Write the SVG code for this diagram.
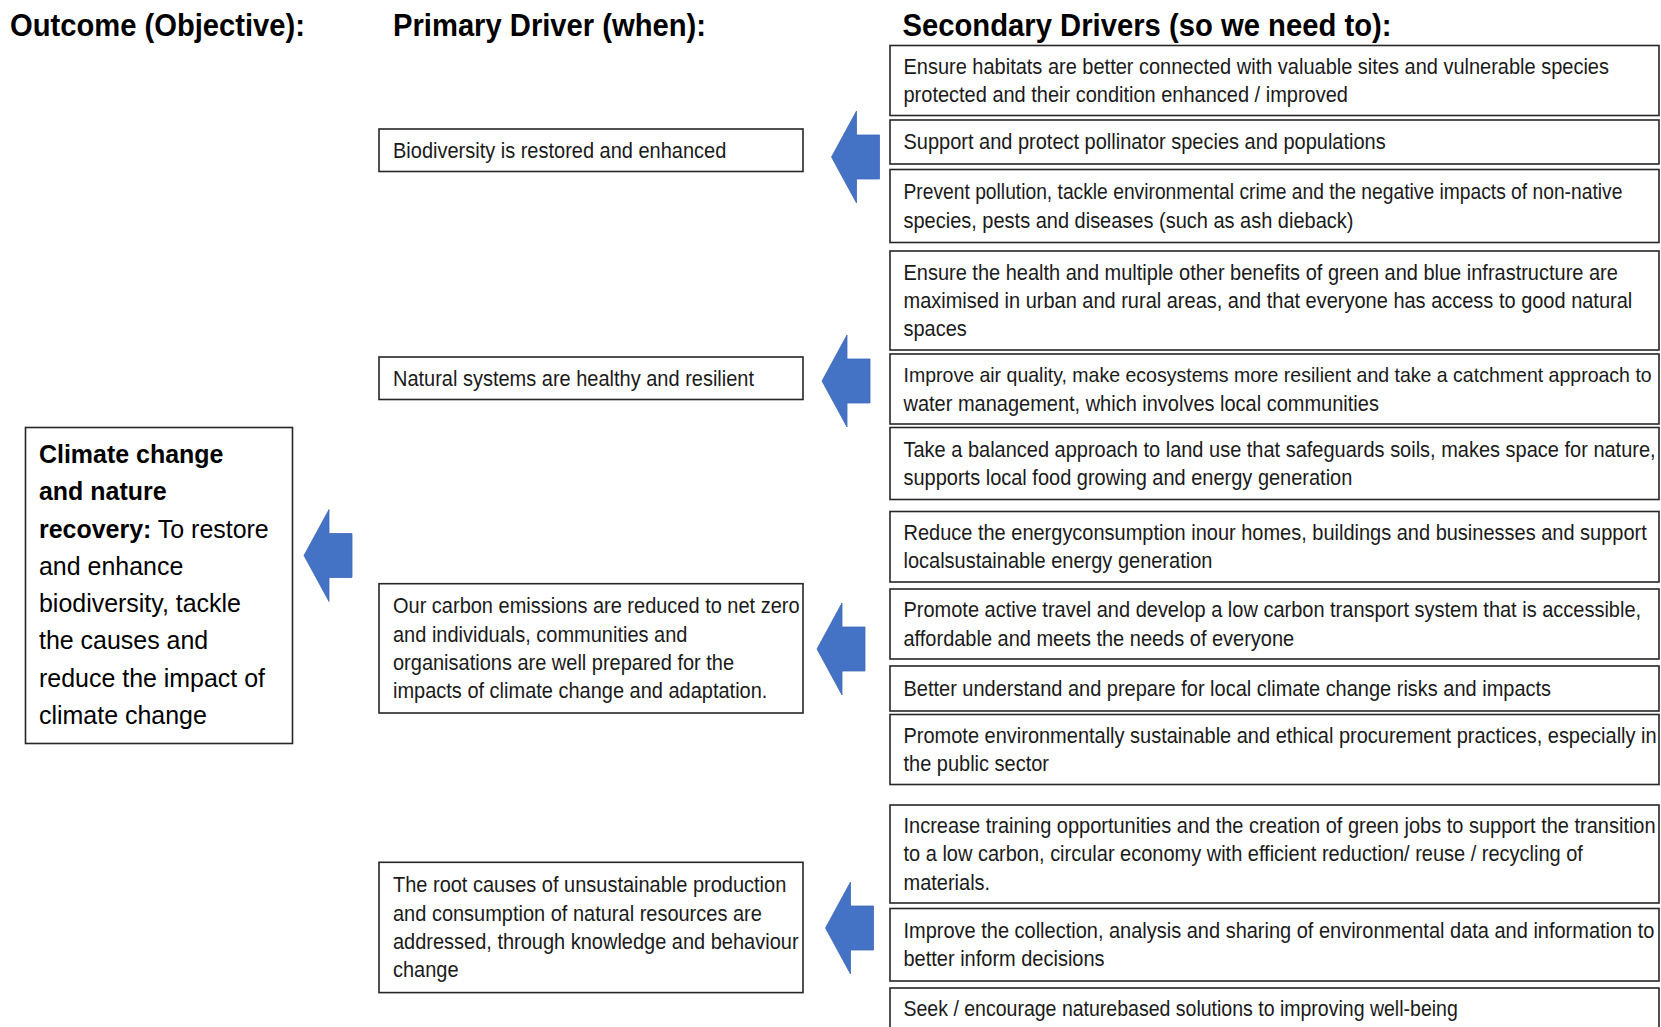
<svg xmlns="http://www.w3.org/2000/svg" xmlns:xlink="http://www.w3.org/1999/xlink" width="1661" height="1027" viewBox="0 0 1661 1027">
<style>
  .bg { fill: #ffffff; }
  .box { fill: #ffffff; stroke: #262626; stroke-width: 1.6; }
  .title { font-family: "Liberation Sans", Arial, sans-serif; font-weight: bold; font-size: 32px; fill: #000000; }
  .t { font-family: "Liberation Sans", Arial, sans-serif; font-size: 21.5px; fill: #1a1a1a; }
  .o { font-family: "Liberation Sans", Arial, sans-serif; font-size: 26px; fill: #000000; }
  .b { font-weight: bold; }
  .sm { font-size: 21px; }
  .arrow { fill: #4472C4; stroke: #4068B8; stroke-width: 0.8; }
</style>
<defs>
  <path id="arr" d="M0,0 L25,-46 L25,-22 L48,-22 L48,22 L25,22 L25,46 Z"/>
</defs>
<rect class="bg" x="0" y="0" width="1661" height="1027"/>

<g id="titles">
  <text class="title" x="10" y="36" textLength="295" lengthAdjust="spacingAndGlyphs">Outcome (Objective):</text>
  <text class="title" x="393" y="36" textLength="313" lengthAdjust="spacingAndGlyphs">Primary Driver (when):</text>
  <text class="title" x="902.5" y="36" textLength="489" lengthAdjust="spacingAndGlyphs">Secondary Drivers (so we need to):</text>
</g>

<g id="outcome">
  <rect class="box" x="25.5" y="427.5" width="267" height="316"/>
  <text class="o" transform="matrix(0.96 0 0 1 39 0)">
    <tspan class="b" x="0" y="463">Climate change</tspan>
    <tspan class="b" x="0" y="500.3">and nature</tspan>
    <tspan x="0" y="537.6"><tspan class="b">recovery:</tspan> To restore</tspan>
    <tspan x="0" y="574.9">and enhance</tspan>
    <tspan x="0" y="612.2">biodiversity, tackle</tspan>
    <tspan x="0" y="649.5">the causes and</tspan>
    <tspan x="0" y="686.8">reduce the impact of</tspan>
    <tspan x="0" y="724.1">climate change</tspan>
  </text>
</g>

<g id="primary-1">
  <rect class="box" x="379" y="129" width="424" height="42.5"/>
  <text class="t" transform="matrix(0.93 0 0 1 393 0)"><tspan x="0" y="158.5">Biodiversity is restored and enhanced</tspan></text>
</g>
<g id="primary-2">
  <rect class="box" x="379" y="357" width="424" height="42.5"/>
  <text class="t" transform="matrix(0.93 0 0 1 393 0)"><tspan x="0" y="386">Natural systems are healthy and resilient</tspan></text>
</g>
<g id="primary-3">
  <rect class="box" x="379" y="583.7" width="424" height="129.3"/>
  <text class="t" transform="matrix(0.93 0 0 1 393 0)">
    <tspan x="0" y="613.3">Our carbon emissions are reduced to net zero</tspan>
    <tspan x="0" y="641.6">and individuals, communities and</tspan>
    <tspan x="0" y="669.9">organisations are well prepared for the</tspan>
    <tspan x="0" y="698.2">impacts of climate change and adaptation.</tspan>
  </text>
</g>
<g id="primary-4">
  <rect class="box" x="379" y="862.3" width="424" height="130.3"/>
  <text class="t" transform="matrix(0.93 0 0 1 393 0)">
    <tspan x="0" y="892.4">The root causes of unsustainable production</tspan>
    <tspan x="0" y="920.7">and consumption of natural resources are</tspan>
    <tspan x="0" y="949">addressed, through knowledge and behaviour</tspan>
    <tspan x="0" y="977.3">change</tspan>
  </text>
</g>

<g id="secondary-1">
  <rect class="box" x="890" y="45.5" width="769" height="70"/>
  <text class="t" transform="matrix(0.93 0 0 1 903.5 0)">
    <tspan x="0" y="73.9">Ensure habitats are better connected with valuable sites and vulnerable species</tspan>
    <tspan x="0" y="102.2">protected and their condition enhanced / improved</tspan>
  </text>
</g>
<g id="secondary-2">
  <rect class="box" x="890" y="120" width="769" height="44"/>
  <text class="t" transform="matrix(0.93 0 0 1 903.5 0)"><tspan x="0" y="149.5">Support and protect pollinator species and populations</tspan></text>
</g>
<g id="secondary-3">
  <rect class="box" x="890" y="169.5" width="769" height="73"/>
  <text class="t" transform="matrix(0.93 0 0 1 903.5 0)">
    <tspan x="0" y="199.3" textLength="773" lengthAdjust="spacingAndGlyphs">Prevent pollution, tackle environmental crime and the negative impacts of non-native</tspan>
    <tspan x="0" y="227.6">species, pests and diseases (such as ash dieback)</tspan>
  </text>
</g>
<g id="secondary-4">
  <rect class="box" x="890" y="251" width="769" height="99"/>
  <text class="t" transform="matrix(0.93 0 0 1 903.5 0)">
    <tspan x="0" y="279.7">Ensure the health and multiple other benefits of green and blue infrastructure are</tspan>
    <tspan x="0" y="308">maximised in urban and rural areas, and that everyone has access to good natural</tspan>
    <tspan x="0" y="336.3">spaces</tspan>
  </text>
</g>
<g id="secondary-5">
  <rect class="box" x="890" y="354" width="769" height="70"/>
  <text class="t" transform="matrix(0.93 0 0 1 903.5 0)">
    <tspan class="sm" x="0" y="382.3">Improve air quality, make ecosystems more resilient and take a catchment approach to</tspan>
    <tspan x="0" y="410.6">water management, which involves local communities</tspan>
  </text>
</g>
<g id="secondary-6">
  <rect class="box" x="890" y="427.5" width="769" height="72"/>
  <text class="t" transform="matrix(0.93 0 0 1 903.5 0)">
    <tspan x="0" y="456.8">Take a balanced approach to land use that safeguards soils, makes space for nature,</tspan>
    <tspan x="0" y="485.1">supports local food growing and energy generation</tspan>
  </text>
</g>
<g id="secondary-7">
  <rect class="box" x="890" y="511.5" width="769" height="70.5"/>
  <text class="t" transform="matrix(0.93 0 0 1 903.5 0)">
    <tspan x="0" y="540">Reduce the energyconsumption inour homes, buildings and businesses and support</tspan>
    <tspan x="0" y="568.4">localsustainable energy generation</tspan>
  </text>
</g>
<g id="secondary-8">
  <rect class="box" x="890" y="589" width="769" height="70"/>
  <text class="t" transform="matrix(0.93 0 0 1 903.5 0)">
    <tspan x="0" y="617.3">Promote active travel and develop a low carbon transport system that is accessible,</tspan>
    <tspan x="0" y="645.6">affordable and meets the needs of everyone</tspan>
  </text>
</g>
<g id="secondary-9">
  <rect class="box" x="890" y="666" width="769" height="45"/>
  <text class="t" transform="matrix(0.93 0 0 1 903.5 0)"><tspan x="0" y="696">Better understand and prepare for local climate change risks and impacts</tspan></text>
</g>
<g id="secondary-10">
  <rect class="box" x="890" y="714.5" width="769" height="70"/>
  <text class="t" transform="matrix(0.93 0 0 1 903.5 0)">
    <tspan x="0" y="742.8">Promote environmentally sustainable and ethical procurement practices, especially in</tspan>
    <tspan x="0" y="771.1">the public sector</tspan>
  </text>
</g>
<g id="secondary-11">
  <rect class="box" x="890" y="805" width="769" height="98"/>
  <text class="t" transform="matrix(0.93 0 0 1 903.5 0)">
    <tspan x="0" y="833.2">Increase training opportunities and the creation of green jobs to support the transition</tspan>
    <tspan x="0" y="861.5">to a low carbon, circular economy with efficient reduction/ reuse / recycling of</tspan>
    <tspan x="0" y="889.8">materials.</tspan>
  </text>
</g>
<g id="secondary-12">
  <rect class="box" x="890" y="908.5" width="769" height="72.5"/>
  <text class="t" transform="matrix(0.93 0 0 1 903.5 0)">
    <tspan x="0" y="938">Improve the collection, analysis and sharing of environmental data and information to</tspan>
    <tspan x="0" y="966.4">better inform decisions</tspan>
  </text>
</g>
<g id="secondary-13">
  <rect class="box" x="890" y="988" width="769" height="46"/>
  <text class="t" transform="matrix(0.93 0 0 1 903.5 0)"><tspan x="0" y="1016" textLength="596" lengthAdjust="spacingAndGlyphs">Seek / encourage naturebased solutions to improving well-being</tspan></text>
</g>

<g id="connectors">
  <use class="arrow" xlink:href="#arr" href="#arr" x="831.5" y="157"/>
  <use class="arrow" xlink:href="#arr" href="#arr" x="822" y="381"/>
  <use class="arrow" xlink:href="#arr" href="#arr" x="817" y="649"/>
  <use class="arrow" xlink:href="#arr" href="#arr" x="825.5" y="928"/>
  <use class="arrow" xlink:href="#arr" href="#arr" x="304" y="555.5"/>
</g>
</svg>
